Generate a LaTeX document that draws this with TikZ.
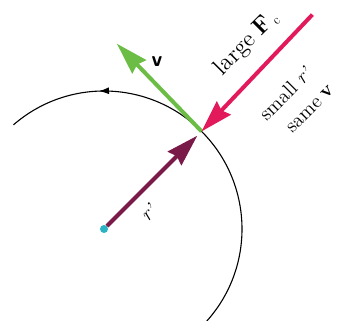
\documentclass[tikz,border=0pt]{standalone}
\usetikzlibrary{arrows.meta,calc,decorations.markings}
\definecolor{radcol}{HTML}{7A1A48}
\definecolor{velcol}{HTML}{6CBD45}
\definecolor{forcol}{HTML}{E2195B}
\definecolor{dotcol}{HTML}{2BB3C4}
\begin{document}
\begin{tikzpicture}[x=1pt,y=1pt,
  vec/.style={line width=4pt,-{Stealth[length=32pt,width=19pt,inset=3pt]}},
  big/.style={rotate=45,font=\Large,scale=1.65,inner sep=0pt},
  mid/.style={rotate=45,font=\Large,scale=1.4,inner sep=0pt},
  orbit/.style={line width=1.1pt,postaction={decorate},
    decoration={markings,mark=at position 0.775 with {\arrow{Latex[length=10pt,width=7pt]}}}}]
\useasboundingbox (0,0) rectangle (340,321);
\coordinate (C) at (104,92);
\coordinate (P) at ($(C)+(45:138)$);
\coordinate (V) at ($(P)+(134:122)$);
\coordinate (F) at ($(P)+(46.5:161)$);
\draw[orbit] ($(C)+(-42:138)$) arc[start angle=-42,end angle=131,radius=138];
\node[circle,fill=dotcol,minimum size=8pt,inner sep=0pt] (O) at (C) {};
\draw[vec,radcol,shorten >=6pt] (O) -- (P);
\draw[vec,velcol] (P) -- (V);
\draw[vec,forcol] (F) -- (P);
\node[font=\Large\sffamily\bfseries,scale=1.5,inner sep=0pt] (vl) at (157,259) {v};
\node[mid,font=\Large\itshape] (rl) at (148,108) {r'};
% large F_c
\node[big,font=\Large\bfseries] (Fb) at (262,296) {F};
\node[big,anchor=base east] (la) at ($(Fb.base west)+(225:6)$) {large};
\node[rotate=45,font=\large,scale=1.1,inner sep=0pt] (cs) at (277,300) {c};
% small r' / same v
\node[mid,font=\Large\itshape] (rp) at (303,245) {r'};
\node[mid,anchor=base east] (sm) at ($(rp.base west)+(225:5)$) {small};
\node[mid,font=\Large\bfseries] (vb) at (328,229) {v};
\node[mid,anchor=base east] (sa) at ($(vb.base west)+(225:5)$) {same};
\end{tikzpicture}
\end{document}
